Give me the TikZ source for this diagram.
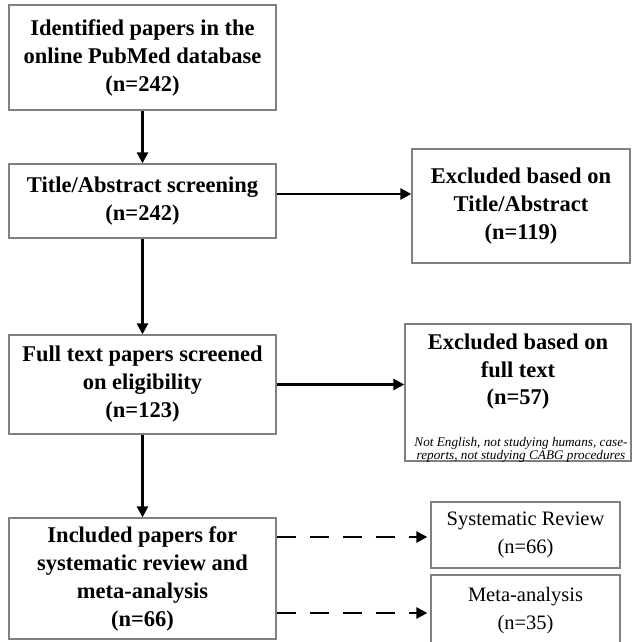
\documentclass[tikz,border=0pt]{standalone}
\usepackage{fontspec}
\setmainfont{Liberation Serif}
\usetikzlibrary{arrows.meta}
\begin{document}
\begin{tikzpicture}[x=1pt,y=-1pt,
  frame/.style={draw=black!50, line width=1.3pt, inner sep=0pt, fill=white},
  box/.style={frame, align=center, font=\fontsize{22.5}{28}\selectfont\bfseries},
  sbox/.style={frame, align=center, font=\fontsize{20.5}{28}\selectfont},
  txt/.style={inner sep=0pt, align=center},
  arr/.style={line width=2.6pt, -{Triangle[length=11pt,width=11pt]}},
  darr/.style={arr, dash pattern=on 19pt off 14pt, shorten >=3pt}]
\useasboundingbox (0,0) rectangle (632,642);
\clip (0,0) rectangle (632,642);
\fill[white] (0,0) rectangle (632,642);

\node[box, minimum width=267pt, minimum height=105pt] (A) at (142.5,57.5)
  {Identified papers in the\\online PubMed database\\(n=242)};
\node[box, minimum width=267pt, minimum height=74pt] (B) at (142.5,201)
  {Title/Abstract screening\\(n=242)};
\node[box, minimum width=218pt, minimum height=114pt] (C) at (521,206)
  {Excluded based on\\Title/Abstract\\(n=119)};
\node[box, minimum width=267pt, minimum height=99pt] (D) at (142.5,384.5)
  {Full text papers screened\\on eligibility\\(n=123)};
\node[frame, minimum width=226pt, minimum height=137pt] (E) at (518,392.5) {};
\node[txt, font=\fontsize{22.5}{27.5}\selectfont\bfseries] (Et) at (518,372)
  {Excluded based on\\full text\\(n=57)};
\node[txt, font=\fontsize{13.2}{13.5}\selectfont\itshape] (En) at (521,450)
  {Not English, not studying humans, case-\\reports, not studying CABG procedures};
\node[box, minimum width=267pt, minimum height=121pt] (F) at (142.5,578.5)
  {Included papers for\\systematic review and\\meta-analysis\\(n=66)};
\node[sbox, minimum width=189pt, minimum height=66pt] (G) at (525.5,535)
  {Systematic Review\\(n=66)};
\node[sbox, minimum width=189pt, minimum height=72pt] (H) at (525.5,611)
  {Meta-analysis\\(n=35)};

\coordinate (b1) at ([yshift=7pt]B.east);
\coordinate (f1) at ([yshift=41.5pt]F.east);
\coordinate (f2) at ([yshift=-34.5pt]F.east);

\draw[arr] (A) -- (B);
\draw[arr] (B) -- (D);
\draw[arr] (D) -- (F);
\draw[arr] (b1) -- (b1 -| C.west);
\draw[arr] (D.east) -- (D.east -| E.west);
\draw[darr] (f1) -- (f1 -| G.west);
\draw[darr] (f2) -- (f2 -| H.west);
\end{tikzpicture}
\end{document}
